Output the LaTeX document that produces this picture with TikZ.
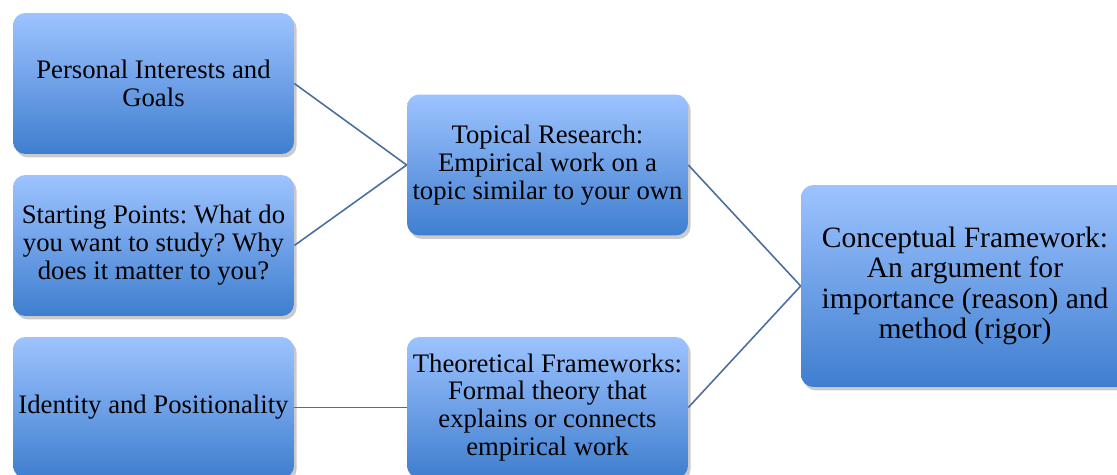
\documentclass[tikz,border=0pt]{standalone}
\usepackage{fontspec}
\setmainfont{Liberation Serif}
\usetikzlibrary{shadows}
\definecolor{boxtop}{HTML}{9DC3FF}
\definecolor{boxbot}{HTML}{3F7ECF}
\definecolor{linkcol}{HTML}{4A6E9E}
\frenchspacing

\begin{document}
\begin{tikzpicture}[x=0.02cm, y=-0.02cm,
    box/.style = {rounded corners=7pt, top color=boxtop, bottom color=boxbot,
        minimum width=5.62cm, minimum height=2.82cm, align=center, inner xsep=2pt,
        font=\fontsize{15.2}{15.9}\selectfont,
        drop shadow={shadow xshift=1.5pt, shadow yshift=-2pt, opacity=0.35, fill=black!60}},
    link/.style = {draw=linkcol, line width=0.9pt}]

    \useasboundingbox (0,0) rectangle (1117,475);
    \clip (0,0) rectangle (1117,475);

    % left column
    \node[box] at (153.5, 83.5) (interests) {Personal Interests and\\Goals};
    \node[box] at (153.5, 245.5) (start) {Starting Points: What do\\you want to study? Why\\does it matter to you?};
    \node[box] at (153.5, 407.5) (identity) {Identity and Positionality};

    % middle column
    \node[box] at (547.5, 165) (topical) {Topical Research:\\Empirical work on a\\topic similar to your own};
    \node[box] at (547.5, 407.5) (theory) {Theoretical Frameworks:\\Formal theory that\\explains or connects\\empirical work};

    % right
    \node[box, minimum width=6.56cm, minimum height=4.04cm, font=\fontsize{16.8}{17.2}\selectfont]
        at (965, 286) (concept) {Conceptual Framework:\\An argument for\\importance (reason) and\\method (rigor)};

    \draw[link] (interests.east) -- (topical.west);
    \draw[link] (start.east) -- (topical.west);
    \draw[link] (identity.east) -- (theory.west);
    \draw[link] (topical.east) -- (concept.west);
    \draw[link] (theory.east) -- (concept.west);
\end{tikzpicture}
\end{document}
